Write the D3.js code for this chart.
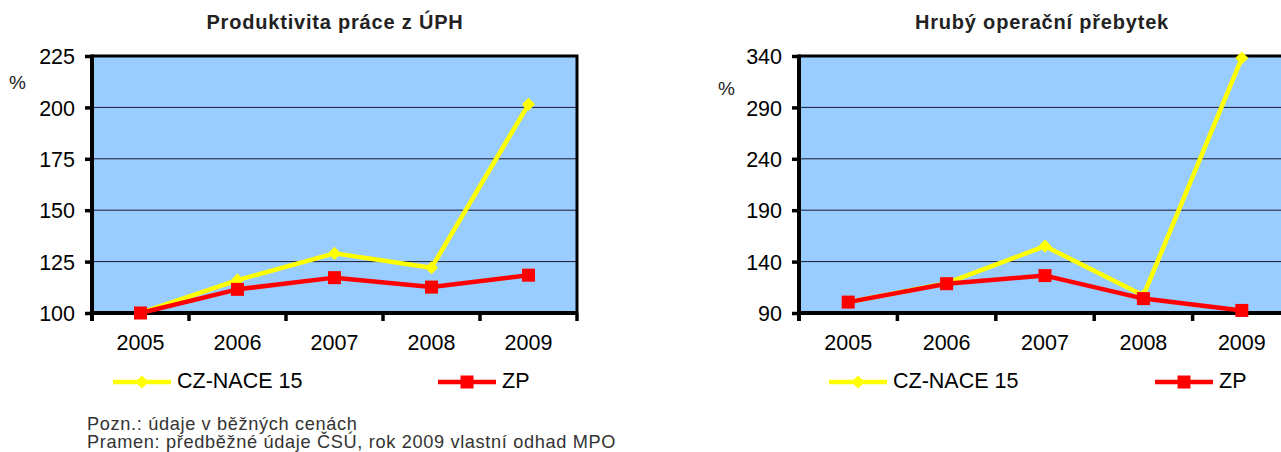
<!DOCTYPE html>
<html>
<head>
<meta charset="utf-8">
<script src="https://cdn.jsdelivr.net/npm/d3@7"></script>
<style>
  html, body { margin: 0; padding: 0; background: #fff; }
  svg { display: block; font-family: "Liberation Sans", Arial, Helvetica, sans-serif; }
</style>
</head>
<body>
<svg id="chart" width="1281" height="452"></svg>
<script>
const years = ["2005", "2006", "2007", "2008", "2009"];
const seriesNames = ["CZ-NACE 15", "ZP"];
// Left chart: Produktivita práce z ÚPH
const leftTitle = "Produktivita práce z ÚPH";
const leftNace = [100, 116, 129, 122, 201.5];
const leftZP = [100, 111.5, 117.2, 112.6, 118.4];
const leftTicks = [100, 125, 150, 175, 200, 225];
// Right chart: Hrubý operační přebytek
const rightTitle = "Hrubý operační přebytek";
const rightNace = [100.6, 119, 155, 107, 338];
const rightZP = [100.6, 118.5, 126.4, 104, 92.5];
const rightTicks = [90, 140, 190, 240, 290, 340];
const notes = ["Pozn.: údaje v běžných cenách", "Pramen: předběžné údaje ČSÚ, rok 2009 vlastní odhad MPO"];

const svg = d3.select("#chart");
const colors = ["#FFFF00", "#FF0000"];

function drawChart(cfg) {
  const g = svg.append("g");
  const x = d3.scaleBand().domain(years).range([cfg.x0, cfg.x1]);
  const y = d3.scaleLinear().domain([cfg.ticks[0], cfg.ticks[cfg.ticks.length - 1]]).range([cfg.y1, cfg.y0]);

  // title
  g.append("text").attr("x", cfg.titleX).attr("y", 29).attr("text-anchor", "middle")
    .attr("font-size", 20).attr("letter-spacing", 0.8).attr("font-weight", "bold").attr("fill", "#222").text(cfg.title);

  // plot background
  g.append("rect").attr("x", cfg.x0).attr("y", cfg.y0).attr("width", cfg.x1 - cfg.x0).attr("height", cfg.y1 - cfg.y0)
    .attr("fill", "#99CCFF");

  // gridlines
  g.append("g").selectAll("line").data(cfg.ticks.slice(1, -1)).join("line")
    .attr("x1", cfg.x0).attr("x2", cfg.x1).attr("y1", d => y(d)).attr("y2", d => y(d))
    .attr("stroke", "#1a1a2e").attr("stroke-width", 1);

  // border top/right
  g.append("path").attr("d", `M${cfg.x0},${cfg.y0}H${cfg.x1}V${cfg.y1}`).attr("fill", "none")
    .attr("stroke", "#000").attr("stroke-width", 3);

  // y axis
  const ya = g.append("g").attr("transform", `translate(${cfg.x0},0)`)
    .call(d3.axisLeft(y).tickValues(cfg.ticks).tickSize(7).tickPadding(10).tickFormat(d3.format("d")));
  ya.select(".domain").attr("stroke", "#000").attr("stroke-width", 4)
    .attr("d", `M0,${cfg.y0 - 1.5}V${cfg.y1 + 8}`);
  ya.selectAll(".tick line").attr("stroke", "#000").attr("stroke-width", 3.5);
  ya.selectAll(".tick text").attr("font-size", 21.5).attr("fill", "#000")
    .attr("font-family", "Liberation Sans, Arial, sans-serif").attr("dy", "0.36em");

  // x axis
  const xa = g.append("g").attr("transform", `translate(0,${cfg.y1})`)
    .call(d3.axisBottom(x).tickSize(0).tickPadding(22));
  xa.select(".domain").attr("stroke", "#000").attr("stroke-width", 4)
    .attr("d", `M${cfg.x0},0H${cfg.x1}`);
  xa.selectAll(".tick text").attr("font-size", 21.5).attr("fill", "#000")
    .attr("font-family", "Liberation Sans, Arial, sans-serif");
  // category boundary ticks
  const bounds = years.map(d => x(d)).concat([cfg.x1]);
  xa.append("g").selectAll("line").data(bounds).join("line")
    .attr("x1", d => d).attr("x2", d => d).attr("y1", 0).attr("y2", 8)
    .attr("stroke", "#000").attr("stroke-width", 3.5);

  // % label
  g.append("text").attr("x", cfg.pctX).attr("y", cfg.pctY).attr("font-size", 19).attr("fill", "#222").text("%");

  const cx = d => x(d) + x.bandwidth() / 2;
  const line = d3.line().x((d, i) => cx(years[i])).y(d => y(d));

  [cfg.nace, cfg.zp].forEach((vals, si) => {
    g.append("path").datum(vals).attr("d", line).attr("fill", "none")
      .attr("stroke", colors[si]).attr("stroke-width", 4.5).attr("stroke-linejoin", "round");
    if (si === 0) {
      g.append("g").selectAll("path").data(vals).join("path")
        .attr("d", d3.symbol(d3.symbolDiamond2, 110)())
        .attr("transform", (d, i) => `translate(${cx(years[i])},${y(d)})`)
        .attr("fill", colors[0]);
    } else {
      g.append("g").selectAll("rect").data(vals).join("rect")
        .attr("x", (d, i) => cx(years[i]) - 6.5).attr("y", d => y(d) - 6.5)
        .attr("width", 13).attr("height", 13).attr("fill", colors[1]);
    }
  });

  // legend
  const lg = g.append("g");
  const legY = 382;
  cfg.legendX.forEach((lx, si) => {
    lg.append("line").attr("x1", lx).attr("x2", lx + 58).attr("y1", legY).attr("y2", legY)
      .attr("stroke", colors[si]).attr("stroke-width", 4.5);
    if (si === 0) {
      lg.append("path").attr("d", d3.symbol(d3.symbolDiamond2, 110)())
        .attr("transform", `translate(${lx + 29},${legY})`).attr("fill", colors[0]);
    } else {
      lg.append("rect").attr("x", lx + 29 - 6.5).attr("y", legY - 6.5).attr("width", 13).attr("height", 13)
        .attr("fill", colors[1]);
    }
    lg.append("text").attr("x", lx + 64).attr("y", legY + 5.5).attr("font-size", 21.5).attr("fill", "#000")
      .text(seriesNames[si]);
  });
}

drawChart({
  id: "L", title: leftTitle, titleX: 335, x0: 92, x1: 577, y0: 56, y1: 313,
  ticks: leftTicks, nace: leftNace, zp: leftZP, pctX: 9, pctY: 89, legendX: [113, 438]
});
drawChart({
  id: "R", title: rightTitle, titleX: 1042, x0: 799, x1: 1291, y0: 56, y1: 313,
  ticks: rightTicks, nace: rightNace, zp: rightZP, pctX: 718, pctY: 95, legendX: [829, 1155]
});

// notes
svg.append("g").selectAll("text").data(notes).join("text")
  .attr("x", 87).attr("y", (d, i) => 430 + i * 18).attr("font-size", 18.2)
  .attr("letter-spacing", 0.65).attr("fill", "#333").text(d => d);
</script>
</body>
</html>
